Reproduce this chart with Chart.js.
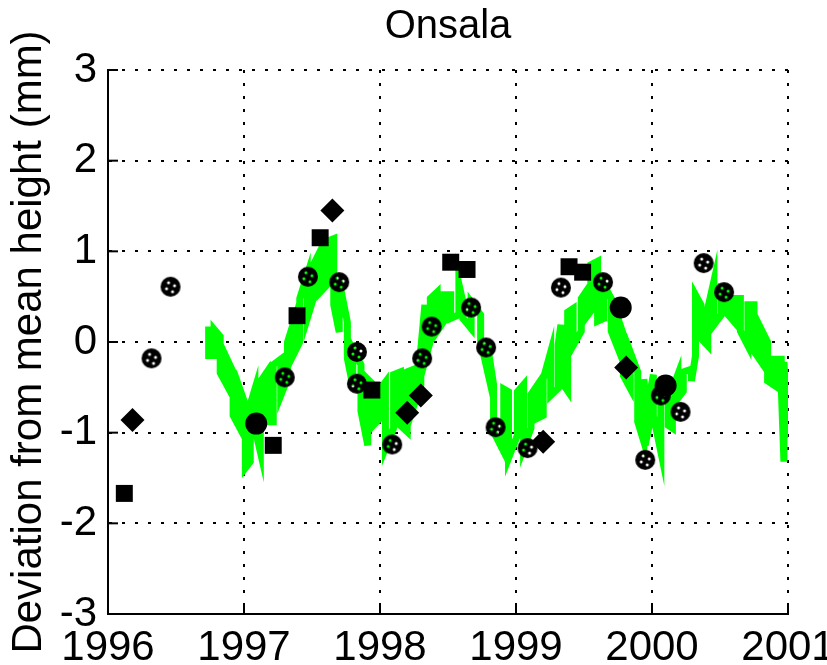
<!DOCTYPE html>
<html>
<head>
<meta charset="utf-8">
<script src="https://cdn.jsdelivr.net/npm/chart.js@4.4.0/dist/chart.umd.min.js"></script>
<style>
html, body { margin: 0; padding: 0; background: #fff; overflow: hidden; }
#wrap { width: 827px; height: 665px; position: relative; }
</style>
</head>
<body>
<div id="wrap"><canvas id="onsalaChart"></canvas></div>
<script>
// tick labels
const xTicks = [1996, 1997, 1998, 1999, 2000, 2001];
const yTicks = [-3, -2, -1, 0, 1, 2, 3];

// green band: upper and lower edge at each sampled time
const greenYears = [1996.74, 1996.78, 1996.825, 1996.876, 1996.92, 1996.97, 1997.01, 1997.046, 1997.08, 1997.12,
  1997.17, 1997.215, 1997.27, 1997.32, 1997.36, 1997.41, 1997.465, 1997.51, 1997.56, 1997.61,
  1997.66, 1997.70, 1997.76, 1997.80, 1997.86, 1997.91, 1997.95, 1998.00, 1998.04, 1998.10,
  1998.15, 1998.20, 1998.25, 1998.30, 1998.33, 1998.37, 1998.42, 1998.47, 1998.52, 1998.58,
  1998.61, 1998.67, 1998.74, 1998.79, 1998.835, 1998.91, 1998.945, 1999.01, 1999.056, 1999.11,
  1999.16, 1999.20, 1999.255, 1999.31, 1999.33, 1999.38, 1999.42, 1999.48, 1999.53, 1999.55,
  1999.60, 1999.645, 1999.70, 1999.75, 1999.79, 1999.84, 1999.895, 1999.94, 1999.95, 1999.99,
  2000.01, 2000.065, 2000.12, 2000.15, 2000.19, 2000.23, 2000.29, 2000.32, 2000.36, 2000.41,
  2000.455, 2000.51, 2000.56, 2000.60, 2000.65, 2000.705, 2000.75, 2000.80, 2000.85, 2000.90,
  2000.95, 2000.97, 2001.00];
const greenHigh = [0.17, 0.14, 0.06, -0.19, -0.33, -0.52, -0.69, -0.69, -0.52, -0.44,
  -0.33, -0.25, -0.19, 0.00, 0.19, 0.48, 0.74, 0.85, 1.00, 1.11,
  1.14, 0.67, 0.22, -0.08, -0.25, -0.41, -0.47, -0.52, -0.44, -0.36,
  -0.33, -0.33, -0.30, -0.08, 0.41, 0.48, 0.55, 0.52, 0.52, 0.64,
  0.44, 0.44, 0.30, -0.03, -0.47, -0.52, -0.55, -0.55, -0.47, -0.58,
  -0.47, -0.41, -0.11, -0.03, 0.19, 0.33, 0.37, 0.48, 0.59, 0.85,
  0.89, 0.63, 0.48, 0.26, 0.08, -0.11, -0.33, -0.41, -0.58, -0.52,
  -0.36, -0.52, -0.58, -0.52, -0.36, -0.33, -0.30, 0.52, 0.41, 0.37,
  0.67, 0.59, 0.55, 0.48, 0.48, 0.41, 0.41, 0.15, 0.00, -0.19,
  -0.19, -0.22, -0.92];
const greenLow = [-0.15, -0.15, -0.34, -0.48, -0.81, -0.95, -1.39, -1.32, -0.95, -1.21,
  -0.88, -0.88, -0.59, -0.40, -0.15, 0.00, 0.26, 0.48, 0.55, 0.63,
  0.41, 0.11, -0.18, -0.48, -0.76, -1.14, -0.92, -0.84, -1.17, -0.95,
  -0.92, -0.99, -0.70, -0.48, -0.21, 0.01, 0.12, 0.23, 0.26, 0.30,
  0.26, 0.15, 0.01, -0.32, -0.99, -1.21, -1.28, -1.03, -1.17, -0.95,
  -0.84, -0.81, -0.59, -0.51, -0.43, -0.54, -0.04, 0.12, 0.30, 0.34,
  0.23, 0.26, 0.12, -0.07, -0.37, -0.51, -0.88, -1.10, -1.14, -0.84,
  -0.81, -1.21, -0.92, -0.95, -0.62, -0.54, -0.43, -0.15, 0.04, -0.04,
  0.19, 0.30, 0.30, 0.23, 0.12, -0.04, -0.10, -0.21, -0.43, -0.48,
  -0.48, -1.32, -1.06];

// black squares
const squareYears = [1996.12, 1997.215, 1997.39, 1997.56, 1997.94, 1998.52, 1998.64, 1999.39, 1999.49];
const squareValues = [-1.67, -1.14, 0.29, 1.15, -0.53, 0.88, 0.80, 0.83, 0.77];

// black diamonds
const diamondYears = [1996.18, 1997.65, 1998.20, 1998.30, 1999.20, 1999.81];
const diamondValues = [-0.86, 1.45, -0.78, -0.59, -1.10, -0.28];

// filled black dots
const dotYears = [1997.09, 1999.77, 2000.10];
const dotValues = [-0.90, 0.38, -0.48];

// circles with holes
const ringYears = [1996.32, 1996.46, 1997.30, 1997.47, 1997.70, 1997.83, 1997.83, 1998.09, 1998.31, 1998.38,
  1998.67, 1998.78, 1998.85, 1999.085, 1999.33, 1999.64, 1999.95, 2000.065, 2000.21, 2000.38, 2000.53];
const ringValues = [-0.18, 0.61, -0.39, 0.72, 0.66, -0.11, -0.46, -1.13, -0.18, 0.17,
  0.38, -0.06, -0.94, -1.17, 0.60, 0.66, -1.30, -0.59, -0.77, 0.87, 0.55];

const fontFamily = "'Liberation Sans', Arial, Helvetica, sans-serif";

function toPoints(xs, ys) {
    return xs.map((x, i) => ({ x: x, y: ys[i] }));
}

// zigzag between top and bottom of the band
function bandPoints() {
    const pts = [];
    greenYears.forEach((x, i) => {
        if (i % 2 === 0) {
            pts.push({ x: x, y: greenHigh[i] });
            pts.push({ x: x, y: greenLow[i] });
        } else {
            pts.push({ x: x, y: greenLow[i] });
            pts.push({ x: x, y: greenHigh[i] });
        }
    });
    return pts;
}

function makeRingMarker() {
    const c = document.createElement('canvas');
    c.width = 22;
    c.height = 22;
    const g = c.getContext('2d');
    g.fillStyle = '#000';
    g.beginPath();
    g.arc(11, 11, 10, 0, Math.PI * 2);
    g.fill();
    g.globalCompositeOperation = 'destination-out';
    [[-2, -4], [4, -1], [-4, 2], [2, 5]].forEach(([dx, dy]) => {
        g.beginPath();
        g.arc(11 + dx, 11 + dy, 1.5, 0, Math.PI * 2);
        g.fill();
    });
    return c;
}

// short ticks pointing into the plot
const inwardTicks = {
    id: 'inwardTicks',
    afterDraw(chart) {
        const { ctx, chartArea, scales } = chart;
        ctx.save();
        ctx.strokeStyle = '#000';
        ctx.lineWidth = 2;
        scales.x.ticks.forEach(t => {
            const px = scales.x.getPixelForValue(t.value);
            ctx.beginPath();
            ctx.moveTo(px, chartArea.bottom);
            ctx.lineTo(px, chartArea.bottom - 10);
            ctx.stroke();
        });
        scales.y.ticks.forEach(t => {
            const py = scales.y.getPixelForValue(t.value);
            ctx.beginPath();
            ctx.moveTo(chartArea.left, py);
            ctx.lineTo(chartArea.left + 10, py);
            ctx.stroke();
        });
        ctx.restore();
    }
};

const ctx = document.getElementById('onsalaChart');
new Chart(ctx, {
    type: 'line',
    data: {
        datasets: [
            {
                label: 'band',
                data: bandPoints(),
                borderColor: '#00ff00',
                borderWidth: 7,
                pointRadius: 0,
                tension: 0,
                order: 10
            },
            {
                label: 'rings',
                data: toPoints(ringYears, ringValues),
                showLine: false,
                pointStyle: makeRingMarker(),
                order: 4
            },
            {
                label: 'squares',
                data: toPoints(squareYears, squareValues),
                showLine: false,
                pointStyle: 'rect',
                pointRadius: 12,
                backgroundColor: '#000',
                borderColor: '#000',
                borderWidth: 0,
                order: 3
            },
            {
                label: 'diamonds',
                data: toPoints(diamondYears, diamondValues),
                showLine: false,
                pointStyle: 'rectRot',
                pointRadius: 12,
                backgroundColor: '#000',
                borderColor: '#000',
                borderWidth: 0,
                order: 2
            },
            {
                label: 'dots',
                data: toPoints(dotYears, dotValues),
                showLine: false,
                pointStyle: 'circle',
                pointRadius: 11,
                backgroundColor: '#000',
                borderColor: '#000',
                borderWidth: 0,
                order: 1
            }
        ]
    },
    options: {
        responsive: true,
        maintainAspectRatio: false,
        animation: false,
        layout: { padding: { left: 0, right: 39, top: 0, bottom: 0 } },
        scales: {
            x: {
                type: 'linear',
                min: 1996,
                max: 2001,
                afterBuildTicks: s => { s.ticks = xTicks.map(v => ({ value: v })); },
                afterFit: s => { s.height = 51; s.paddingLeft = 0; s.paddingRight = 0; },
                ticks: {
                    callback: v => String(v),
                    font: { size: 42, family: fontFamily },
                    color: '#000',
                    padding: 9,
                    maxRotation: 0,
                    autoSkip: false
                },
                grid: { color: '#000', lineWidth: 2, drawTicks: false },
                border: { display: true, color: '#000', width: 2, dash: [3, 10] }
            },
            y: {
                min: -3,
                max: 3,
                afterBuildTicks: s => { s.ticks = yTicks.map(v => ({ value: v })); },
                afterFit: s => { s.width = 108; s.paddingTop = 0; s.paddingBottom = 0; },
                ticks: {
                    callback: v => String(v),
                    font: { size: 42, family: fontFamily },
                    color: '#000',
                    padding: 11
                },
                grid: { color: '#000', lineWidth: 2, drawTicks: false },
                border: { display: true, color: '#000', width: 2, dash: [3, 10] },
                title: {
                    display: true,
                    text: 'Deviation from mean height (mm)',
                    font: { size: 42, family: fontFamily },
                    color: '#000',
                    padding: { top: 4, bottom: 0 }
                }
            }
        },
        plugins: {
            legend: { display: false },
            tooltip: { enabled: false },
            title: {
                display: true,
                text: 'Onsala',
                fullSize: false,
                font: { size: 40, family: fontFamily, weight: 'normal' },
                color: '#000',
                padding: { top: 3, bottom: 19 }
            }
        }
    },
    plugins: [inwardTicks]
});
</script>
</body>
</html>
